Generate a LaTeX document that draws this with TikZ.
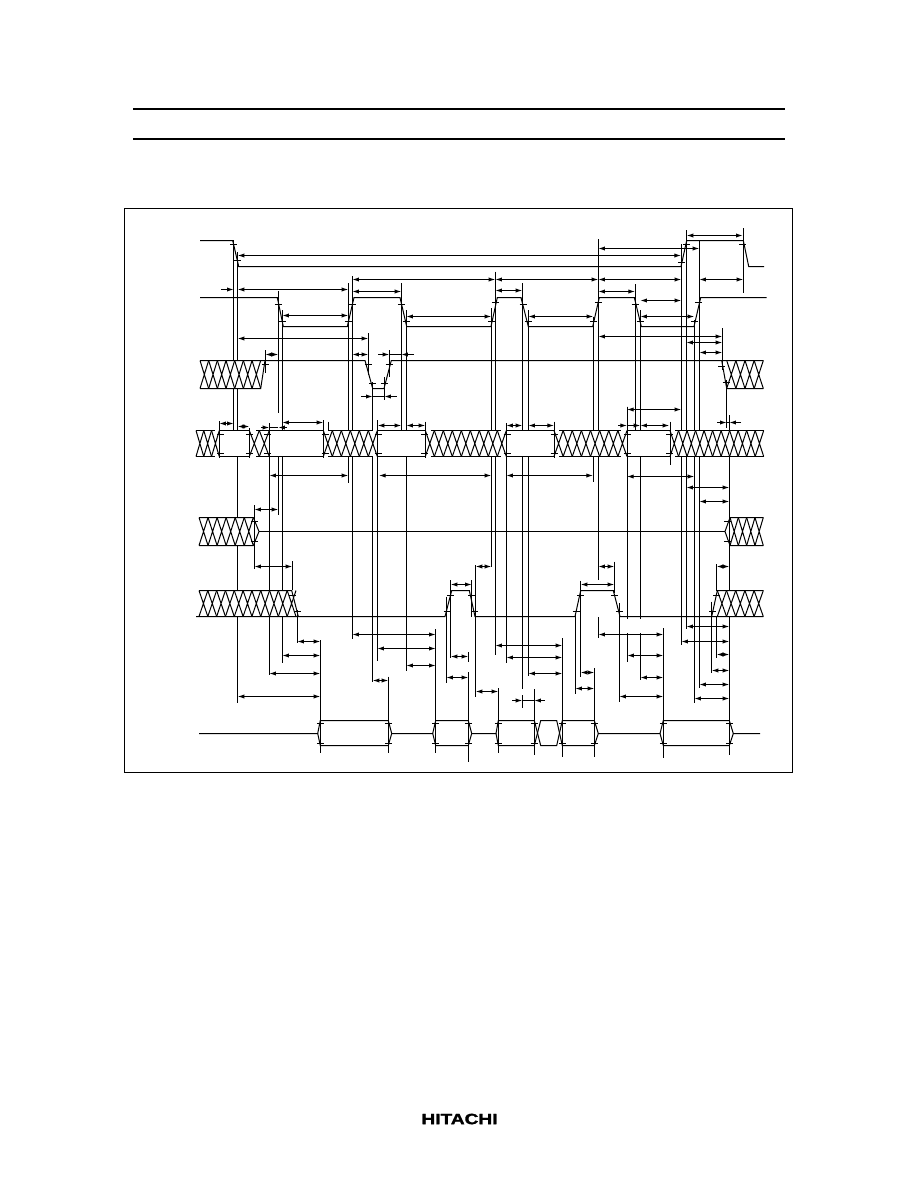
\documentclass[tikz,border=0pt]{standalone}
\usepackage{fontspec}
\setmainfont{Liberation Sans}
\newfontfamily\logofont[BoldFont={Liberation Sans Bold},BoldFeatures={FakeBold=1.5}]{Liberation Sans}
\usetikzlibrary{arrows.meta}
\newcommand{\hatchband}[5]{%
  \pgfmathsetmacro{\hs}{(#2-#1)/#5}%
  \foreach \i in {1,...,#5}{%
    \pgfmathsetmacro{\xa}{#1+(\i-1)*\hs}%
    \pgfmathsetmacro{\xb}{#1+\i*\hs}%
    \draw[sig] (\xa,#3)--(\xb,#4) (\xa,#4)--(\xb,#3);
  }%
}
\newcommand{\tick}[2]{\draw[sig] (#1-3.5,{floor(#2)+0.5})--(#1+3.5,{floor(#2)+0.5});}
\newcommand{\dbl}[3]{\draw[dim] (#1,{floor(#3)+0.5})--(#2,{floor(#3)+0.5});}
\newcommand{\vl}[3]{\draw[sig] ({floor(#1)+0.5},#2)--({floor(#1)+0.5},#3);}
\newcommand{\into}[3]{\draw[sig,-{Latex[length=5pt,width=3.2pt]}] (#1,{floor(#3)+0.5})--(#2,{floor(#3)+0.5});}
\newcommand{\hseg}[3]{\draw[sig] (#1,{floor(#3)+0.5})--(#2,{floor(#3)+0.5});}
\tikzset{
  sig/.style={line width=0.75pt,line cap=butt,line join=miter},
  dim/.style={line width=0.75pt,{Latex[length=5pt,width=3.2pt]}-{Latex[length=5pt,width=3.2pt]}},
  rulebar/.style={line width=1.5pt},
  mask/.style={fill=white,draw=none},
}
\begin{document}
\begin{tikzpicture}[x=0.75pt,y=-0.75pt]
\useasboundingbox (0,0) rectangle (918,1188);
\fill[white] (0,0) rectangle (918,1188);
% header rules and frame
\draw[rulebar] (133,109)--(785,109);
\draw[rulebar] (133,139)--(785,139);
\draw[sig] (124.5,208.5) rectangle (792.5,772.5);
% vertical extension lines
\vl{233.7}{240}{430}\vl{237.7}{252}{703}
\vl{265.3}{350}{373}\vl{278.3}{291}{413.3}\vl{278.3}{456}{515}
\vl{282.3}{310}{662.7}\vl{269.3}{423}{675}
\vl{328.3}{421.7}{430}
\vl{348.3}{283}{483}\vl{352.3}{276}{639.3}
\vl{368.3}{333}{375}\vl{372.7}{382}{681.7}\vl{384.3}{377}{400}
\vl{389.3}{350}{377}\vl{377.3}{420}{660.7}\vl{401.3}{283}{430}
\vl{406.3}{310}{670.7}
\vl{491.3}{308}{567.3}\vl{495.3}{271.7}{655}\vl{506.3}{423}{662.7}
\vl{522.3}{283}{689.3}\vl{522.3}{695}{707.5}\vl{534.3}{689.3}{755}
\vl{528.3}{310}{676}
\vl{593.3}{316.7}{481.7}\vl{598.3}{239}{580}\vl{598.3}{617}{638}
\vl{627}{406.7}{619.3}\vl{627.3}{633.3}{661.7}
\vl{640.3}{310}{619.3}\vl{640.3}{633.3}{680}\vl{635}{284}{430}
\vl{681.3}{244}{645}\vl{686.3}{230}{629.3}
\vl{694.3}{320}{702.7}\vl{699.3}{240.7}{688.3}
\vl{722.3}{328}{370}\vl{726.7}{380}{428.3}\vl{729.3}{415}{755}
\vl{743.3}{228}{293}
\vl{254.3}{505}{569.3}\vl{292.3}{561}{590}\vl{297.3}{610}{643.3}
\vl{320.3}{640}{753.3}\vl{388.3}{676.7}{753.3}\vl{435.7}{629.3}{753.3}
\vl{450.7}{580}{658.3}\vl{471.7}{580}{616.7}\vl{446.3}{596.7}{683.3}
\vl{468.3}{652}{662}\vl{468.3}{672}{761.7}\vl{475.7}{565}{697.3}
\vl{498.3}{688.3}{753.3}\vl{562.3}{638.3}{756.7}\vl{594.3}{668.3}{756.7}
\vl{614.3}{561.7}{593}\vl{580.7}{580.7}{676.7}\vl{575.3}{613}{694}
\vl{619.3}{603}{701.7}\vl{663.3}{628.3}{758.3}
\vl{716.7}{564.3}{658.3}\vl{711.7}{601.7}{672.7}
% masks
\fill[mask] (200,360.5) rectangle (262,388.5);
\fill[mask] (196,430.5) rectangle (763.7,456.5);
\fill[mask] (199,517.5) rectangle (253.3,545.5);
\fill[mask] (199,590.5) rectangle (296,616.5);
\fill[mask] (716,590.5) rectangle (763.3,616.5);
\fill[mask] (730,517.5) rectangle (763.3,545.5);
\fill[mask] (726.7,360.5) rectangle (763.3,388.5);
% box sides of the address row, drawn over the masks
\vl{219.3}{421}{458}\vl{249.3}{428}{458}\vl{269.3}{423}{458}\vl{323.3}{420}{458}
\vl{377.3}{420}{458}\vl{425.3}{421.7}{458}\vl{506.3}{423}{458}\vl{554}{421.7}{458.3}
\vl{627}{406.7}{458}\vl{670}{421.7}{465}
% signal 1
\draw[sig] (200,240.5)--(232.7,240.5)--(238.7,266.5)--(681,266.5)--(686.7,240.5)--(743.3,240.5)--(748.7,266.5)--(764,266.5);
% signal 2
\draw[sig] (200,297.5)--(277.3,297.5)--(283.3,326.5)--(347.3,326.5)--(354,297.5)--(400,297.5)--(406.7,326.5)--(491,326.5)--(497.3,297.5)--(521,297.5)--(528.3,326.5)--(592.7,326.5)--(599.3,297.5)--(634.3,297.5)--(641.3,326.5)--(694,326.5)--(700.7,297.5)--(766.7,297.5);
% signal 3
\hatchband{200}{260.7}{360.5}{388.5}{7}
\draw[sig] (200,388.5)--(260.7,388.5)--(265,360.5);
\draw[sig] (200,360.5)--(365,360.5)--(372.7,388.5)--(384,388.5)--(391.3,360.5)--(763.3,360.5);
\draw[sig] (721.7,360.5)--(726.7,388.5)--(763.3,388.5);
\hatchband{726.7}{763.3}{360.5}{388.5}{4}
% signal 4
\hatchband{196}{219.3}{430.5}{456.5}{3}
\draw[sig] (196,430.5)--(215,430.5) (196,456.5)--(215,456.5);
\draw[sig] (219.3,430.5)--(249.3,430.5) (219.3,456.5)--(249.3,456.5);
\hatchband{249.3}{269.3}{430.5}{456.5}{2}
\draw[sig] (256,430.5)--(269.3,430.5) (256,456.5)--(269.3,456.5);
\draw[sig] (269.3,430.5)--(323.3,430.5) (269.3,456.5)--(323.3,456.5);
\hatchband{323.3}{377.3}{430.5}{456.5}{6}
\draw[sig] (328.3,430.5)--(372.7,430.5) (328.3,456.5)--(372.7,456.5);
\draw[sig] (377.3,430.5)--(425.3,430.5) (377.3,456.5)--(425.3,456.5);
\hatchband{425.3}{506.3}{430.5}{456.5}{9}
\draw[sig] (430.7,430.5)--(501,430.5) (430.7,456.5)--(501,456.5);
\draw[sig] (506.3,430.5)--(554,430.5) (506.3,456.5)--(554,456.5);
\hatchband{554}{627}{430.5}{456.5}{8}
\draw[sig] (559.3,430.5)--(620.7,430.5) (559.3,456.5)--(620.7,456.5);
\draw[sig] (627,430.5)--(670,430.5) (627,456.5)--(670,456.5);
\hatchband{670}{763.7}{430.5}{456.5}{11}
\draw[sig] (675,430.5)--(763.7,430.5) (675,456.5)--(763.7,456.5);
% signal 6
\hatchband{199}{253.3}{517.5}{545.5}{6}
\draw[sig] (199,517.5)--(253.3,517.5)--(259,531.5)--(253.3,545.5)--(199,545.5);
\draw[sig] (259,531.5)--(725,531.5);
\draw[sig] (763.3,517.5)--(730,517.5)--(725,531.5)--(730,545.5)--(763.3,545.5);
\hatchband{730}{763.3}{517.5}{545.5}{4}
% signal 5
\hatchband{199}{296}{590.5}{616.5}{11}
\draw[sig] (199,590.5)--(291.7,590.5)--(298.3,616.5);
\draw[sig] (196,616.5)--(445,616.5)--(451.7,590.5)--(469.3,590.5)--(475,616.5)--(575,616.5)--(580.7,590.5)--(613.3,590.5)--(620,616.5)--(763.3,616.5);
\draw[sig] (711.7,616.5)--(717.3,590.5)--(763.3,590.5);
\hatchband{717.3}{763.3}{590.5}{616.5}{5}
% signal 7
\draw[sig] (199,733.5)--(317.7,733.5)--(320.3,720.5)--(388.3,720.5)--(391.7,733.5)--(432.7,733.5)--(435.7,720.5)--(468.3,720.5)--(471.7,733.5)--(496,733.5)--(498.3,720.5)--(534.3,720.5)--(540.7,745.5)--(556.7,745.5)--(562.3,720.5)--(594.3,720.5)--(598.3,733.5)--(660,733.5)--(663.3,720.5)--(729.3,720.5)--(733.3,733.5)--(760,733.5);
\draw[sig] (317.7,733.5)--(320.3,745.5)--(388.3,745.5)--(391.7,733.5);
\draw[sig] (432.7,733.5)--(435.7,745.5)--(468.3,745.5)--(471.7,733.5);
\draw[sig] (496,733.5)--(498.3,745.5)--(534.3,745.5)--(540.7,720.5)--(556.7,720.5)--(562.3,745.5)--(594.3,745.5)--(598.3,733.5);
\draw[sig] (660,733.5)--(663.3,745.5)--(729.3,745.5)--(733.3,733.5);
% ticks
\tick{233.7}{244}\tick{237.7}{260}\tick{681.3}{262.7}\tick{686.3}{244}\tick{742.7}{244}
\tick{278.3}{304.7}\tick{282.3}{321.3}\tick{348.3}{321}\tick{352.3}{304.7}\tick{401.3}{304.7}\tick{406.3}{321}
\tick{491.3}{321}\tick{495.3}{302}\tick{523}{304.7}\tick{528.3}{321}\tick{593.3}{321}\tick{598.3}{302}\tick{635}{304.7}\tick{640.3}{321}\tick{694.3}{321}\tick{698.3}{302}
\tick{265.3}{364}\tick{368.3}{364}\tick{372.3}{383.3}\tick{384.3}{383.3}\tick{389}{364}\tick{721.7}{366.7}\tick{726}{382.7}
\foreach \x in {220.5,249.3,267.5,325,378.3,424.5,507,554,627.3,669.5}{\tick{\x}{434.3}\tick{\x}{453.3}}
\tick{254.3}{521.7}\tick{254.3}{541.7}\tick{727.3}{521.7}\tick{727.3}{541.7}
\tick{292.7}{595}\tick{297.3}{611}\tick{450.7}{595}\tick{447}{611}\tick{471.7}{595}\tick{474.7}{611}\tick{580.7}{595}\tick{576}{611}\tick{614.3}{595}\tick{619.3}{611}\tick{716.7}{595}\tick{712.7}{611}
\foreach \x in {320.3,388.3,435.7,468.3,498.3,534.3,562.3,594.3,663.3,729.3}{\tick{\x}{723.3}\tick{\x}{743.3}}
% dimension arrows
\dbl{237.7}{681}{255.3}
\dbl{352.3}{495.3}{279.7}\dbl{495.3}{598.3}{279.7}\dbl{598.3}{681.3}{279.7}\dbl{699.3}{743.3}{279.3}
\into{221}{233.7}{289.7}\dbl{237.7}{348.3}{289.7}
\dbl{352.3}{401.3}{291.3}\dbl{495.3}{522.3}{290.3}\dbl{598.3}{635}{291.3}
\dbl{282.3}{348.3}{315.7}\dbl{406.3}{491.3}{316.7}\dbl{528.3}{593.3}{316.7}\dbl{640.3}{694.3}{316.7}
\dbl{640.3}{681.3}{300.7}
\dbl{237.7}{368.3}{338}\dbl{598.3}{722.3}{336.7}\dbl{686.3}{722.3}{342.3}\dbl{699.3}{722.3}{352}
\dbl{686.7}{742.7}{235}\dbl{598.3}{699.3}{248.7}
\dbl{265.3}{278.3}{354.3}\dbl{352.3}{368.3}{354.3}
\into{378.3}{389.3}{354.3}\into{414}{401.3}{354.3}\hseg{389.3}{401.3}{354.3}
\into{361}{372.7}{396.3}\into{396.7}{384.3}{396.3}\hseg{372.7}{384.3}{396.3}
\dbl{219.3}{233.7}{423.3}\dbl{237.7}{249.3}{426}
\into{261}{269.3}{427}\into{286.7}{278.3}{427}\hseg{269.3}{278.3}{427}
\dbl{282.3}{323.3}{422.3}\dbl{377.7}{401.3}{425.7}\dbl{406.3}{425.3}{425.7}
\dbl{506.3}{522.3}{425.3}\dbl{528.3}{554}{425.3}
\into{618.3}{627}{425.3}\into{627}{640.3}{425.3}\dbl{640.3}{669.3}{425.3}
\dbl{627}{681.3}{409.7}
\into{717}{726.7}{422.3}\into{741}{729.3}{422.3}\hseg{726.7}{729.3}{422.3}
\dbl{269.3}{348.3}{475.7}\dbl{379}{491.3}{475.7}\dbl{506.3}{593}{475.7}\dbl{627}{694.3}{476.3}
\dbl{686.3}{729.3}{487.3}\dbl{699.3}{729.3}{501.7}
\dbl{254.3}{278.3}{509.3}\dbl{254.3}{292.3}{566.7}\dbl{475.7}{491.3}{566.7}
\dbl{297.3}{320.3}{641.7}\dbl{282.3}{320.3}{655.7}\dbl{269.3}{320.3}{673.3}\dbl{237.7}{320.3}{696.7}
\dbl{352.3}{435.7}{634.7}\dbl{377.3}{435.7}{648.7}\dbl{406.3}{435.7}{665.3}\dbl{372.7}{388.3}{680}
\dbl{450.7}{468.3}{656}\dbl{450.7}{471.7}{584}\dbl{446.3}{468.3}{677}\dbl{475.7}{498.3}{691.7}
\dbl{598.3}{614.3}{566.3}\dbl{580.7}{614.3}{584}\dbl{580.7}{594.3}{672.7}\dbl{575.3}{594.3}{688.7}
\dbl{495.3}{562.3}{645.3}\dbl{506.3}{562.3}{657.3}\dbl{528.3}{562.3}{673.3}
\dbl{619.3}{663.3}{696.7}\dbl{598.3}{663.3}{634.7}\dbl{627.3}{663.3}{655.7}\dbl{640.3}{663.3}{677}
\dbl{686.3}{729.3}{626.7}\dbl{681.3}{729.3}{641.7}\dbl{716.7}{729.3}{654}\dbl{711.7}{729.3}{670}\dbl{699.3}{729.3}{684}\dbl{694.3}{729.3}{698.7}
\dbl{716.7}{729.3}{566.3}
\into{512.3}{522.3}{700.3}\into{544.9}{534.3}{700.3}\hseg{522.3}{534.3}{700.3}
% logo
\node[inner sep=0pt] (logo) at (459.5,1119) {\scalebox{1.28}[1]{\fontsize{11.2pt}{12pt}\selectfont\logofont\bfseries HITACHI}};
\end{tikzpicture}
\end{document}
